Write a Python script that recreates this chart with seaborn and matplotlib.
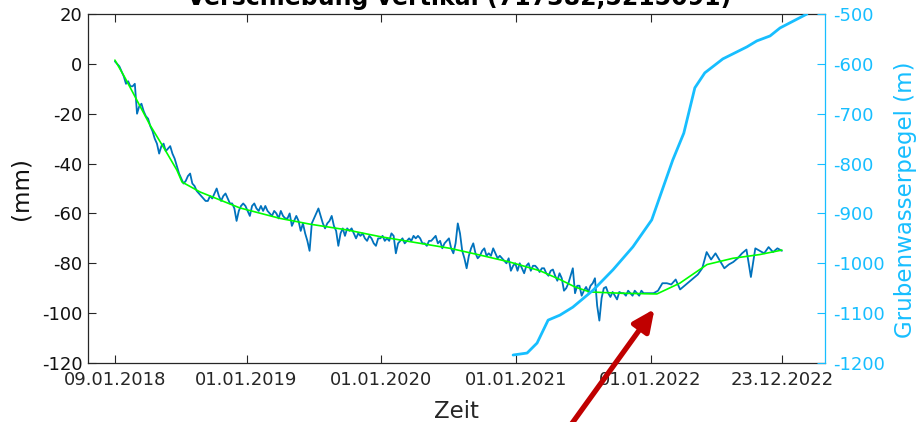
import numpy as np
import pandas as pd
import matplotlib
matplotlib.use("Agg")
import matplotlib.pyplot as plt
import matplotlib.dates as mdates
from matplotlib.patches import FancyArrowPatch
import seaborn as sns

# ---------------- data ----------------
start_date = "2018-01-09"
# measured vertical displacement (mm), 6-day acquisitions 2018-01-09 .. 2021-12-19
dense_step_days = 6
dense_values = [
    1, 0, -1, -3, -5, -8, -7, -9, -9, -8,
    -20, -17, -16, -19, -21, -22, -25, -27, -30, -32,
    -36, -33, -32, -35, -34, -33, -36, -38, -41, -44,
    -46, -48, -47, -45, -44, -48, -49, -51, -52, -53,
    -54, -55, -55, -53, -54, -52, -50, -53, -55, -53,
    -52, -54, -56, -56, -58, -63, -59, -57, -56, -57,
    -59, -61, -57, -56, -58, -59, -57, -59, -57, -59,
    -60, -61, -59, -60, -62, -59, -61, -62, -62, -60,
    -65, -63, -61, -63, -67, -64, -68, -71, -75, -64,
    -62, -60, -58, -61, -64, -66, -64, -63, -61, -65,
    -67, -73, -68, -66, -69, -66, -67, -66, -68, -70,
    -68, -69, -68, -70, -71, -69, -70, -72, -73, -70,
    -70, -69, -71, -70, -71, -68, -69, -76, -72, -71,
    -70, -72, -71, -70, -71, -69, -70, -69, -70, -72,
    -72, -73, -71, -71, -70, -69, -72, -71, -74, -72,
    -71, -70, -74, -76, -72, -64, -68, -75, -78, -82,
    -77, -74, -72, -76, -78, -77, -75, -74, -77, -76,
    -77, -74, -76, -78, -77, -78, -79, -80, -78, -83,
    -81, -80, -83, -80, -82, -84, -81, -80, -83, -81,
    -81, -82, -83.5, -82, -82, -84, -85, -83, -82.5, -85,
    -87, -84, -86, -91, -90, -88, -85, -82, -92, -89,
    -89, -93, -91, -89.5, -91.5, -89, -88, -86, -97, -103,
    -94, -90, -89.5, -92, -93.5, -91.5, -93, -94.5, -91.5, -92,
    -92, -93, -91, -92, -93, -91, -92, -93, -91, -92,
    -92,
]
# measured vertical displacement (mm), 12-day acquisitions 2021-12-28 .. 2022-12-23
sparse_first_day = 1449
sparse_step_days = 12
sparse_values = [
    -92, -92, -91, -88, -88, -88.5, -86.5, -90.5, -89, -87.5,
    -86, -84.5, -82, -75.5, -78.5, -76, -79, -82, -80.5, -79.5,
    -78, -76, -74.5, -85.5, -74, -75, -76, -73.5, -75.5, -74, -75,
]
# fitted trend (mm): day offsets from start and values
fit_days = [0, 27, 49, 95, 136, 168, 182, 231, 339, 448, 529, 629, 719, 808,
            909, 990, 1071, 1153, 1207, 1248, 1288, 1370, 1470, 1532, 1606,
            1676, 1749, 1809]
fit_values = [1.5, -5.5, -11.6, -24.5, -34.5, -42.6, -47.4, -51.4, -57.8, -62,
              -64.3, -66.6, -69.3, -71.5, -74, -76.7, -79.5, -83, -86.5, -89.5,
              -91.5, -92, -92.3, -88, -80.5, -78, -76.5, -74.7]
# mine water level (m)
water_dates = ["2020-12-24", "2021-01-31", "2021-02-27", "2021-03-29", "2021-04-30",
               "2021-06-04", "2021-07-29", "2021-09-21", "2021-11-14", "2022-01-04",
               "2022-03-02", "2022-04-01", "2022-05-01", "2022-05-28", "2022-07-16",
               "2022-09-19", "2022-10-16", "2022-11-21", "2022-12-18", "2023-03-01"]
water_values = [-1184, -1180, -1160, -1114, -1104, -1088, -1054, -1013, -967, -913,
                -793, -739, -648, -618, -590, -566, -554, -544, -528, -500]

xtick_dates = ["2018-01-09", "2019-01-01", "2020-01-01", "2021-01-01", "2022-01-01", "2022-12-23"]
xtick_labels = ["09.01.2018", "01.01.2019", "01.01.2020", "01.01.2021", "01.01.2022", "23.12.2022"]
xlim_dates = ["2017-10-28", "2023-04-19"]
left_ticks = [-120, -100, -80, -60, -40, -20, 0, 20]
right_ticks = [-1200, -1100, -1000, -900, -800, -700, -600, -500]

title = "Verschiebung vertikal (717382,5215091)"

# ---------------- build frames ----------------
t0 = pd.Timestamp(start_date)
dense_dates = t0 + pd.to_timedelta(np.arange(len(dense_values)) * dense_step_days, unit="D")
sparse_dates = t0 + pd.to_timedelta(sparse_first_day + np.arange(len(sparse_values)) * sparse_step_days, unit="D")
meas = pd.DataFrame({"date": list(dense_dates) + list(sparse_dates),
                     "v": dense_values + sparse_values})
fit = pd.DataFrame({"date": t0 + pd.to_timedelta(fit_days, unit="D"), "v": fit_values})
water = pd.DataFrame({"date": pd.to_datetime(water_dates), "v": water_values})

# ---------------- style ----------------
sns.set_theme(style="white")
plt.rcParams["font.family"] = ["DejaVu Sans"]
plt.rcParams["axes.unicode_minus"] = False

dark = "#262626"
cyan = "#17BEFF"
blue = "#0072BD"
green = "#00FF00"

fig = plt.figure(figsize=(9.18, 4.22), dpi=100)
ax = fig.add_axes([88 / 918, 59 / 422, 737 / 918, 349 / 422])

sns.lineplot(data=meas, x="date", y="v", ax=ax, color=blue, linewidth=1.3)
sns.lineplot(data=fit, x="date", y="v", ax=ax, color=green, linewidth=1.2)

ax2 = ax.twinx()
sns.lineplot(data=water, x="date", y="v", ax=ax2, color=cyan, linewidth=2.0)

ax.set_xlim(pd.to_datetime(xlim_dates[0]), pd.to_datetime(xlim_dates[1]))
ax.set_ylim(-120, 20)
ax2.set_ylim(-1200, -500)

ax.set_xticks(mdates.date2num(pd.to_datetime(xtick_dates)))
ax.set_xticklabels(xtick_labels)
ax.set_yticks(left_ticks)
ax.set_yticklabels([str(v) for v in left_ticks])
ax2.set_yticks(right_ticks)
ax2.set_yticklabels([str(v) for v in right_ticks])

ax.tick_params(axis="x", direction="in", length=6, width=0.8, top=True, bottom=True,
               colors=dark, labelsize=13, pad=6)
ax.tick_params(axis="y", direction="in", length=6, width=0.8, left=True, right=False,
               colors=dark, labelcolor="#111111", labelsize=13, pad=4)
ax2.tick_params(axis="y", direction="in", length=6, width=0.8, right=True, left=False,
                colors=cyan, labelsize=13, pad=6)

for name, sp in ax.spines.items():
    sp.set_linewidth(0.9)
    sp.set_color(dark)
ax.spines["right"].set_visible(False)
for name, sp in ax2.spines.items():
    sp.set_visible(name == "right")
ax2.spines["right"].set_color(cyan)
ax2.spines["right"].set_linewidth(0.9)

ax.set_xlabel("Zeit", fontsize=16.5, color=dark)
ax.xaxis.set_label_coords(0.5, -0.105)
ax.set_ylabel("(mm)", fontsize=16.5, color="#111111")
ax.yaxis.set_label_coords(-0.075, 0.5)
ax2.set_ylabel("Grubenwasserpegel (m)", fontsize=16.5, color=cyan)
ax2.yaxis.set_label_coords(1.093, 0.467)

fig.text(459 / 918, 1 - 5 / 422, title, ha="center", va="baseline",
         fontsize=17, fontweight="bold", color="black")

arrow = FancyArrowPatch((560 / 918, -18 / 422), (654.5 / 918, 113 / 422),
                        transform=fig.transFigure,
                        arrowstyle="-|>,head_length=0.65,head_width=0.3",
                        mutation_scale=20, linewidth=3.8, color="#C00000",
                        shrinkA=0, shrinkB=0)
fig.add_artist(arrow)

fig.savefig("out.png", dpi=100)
